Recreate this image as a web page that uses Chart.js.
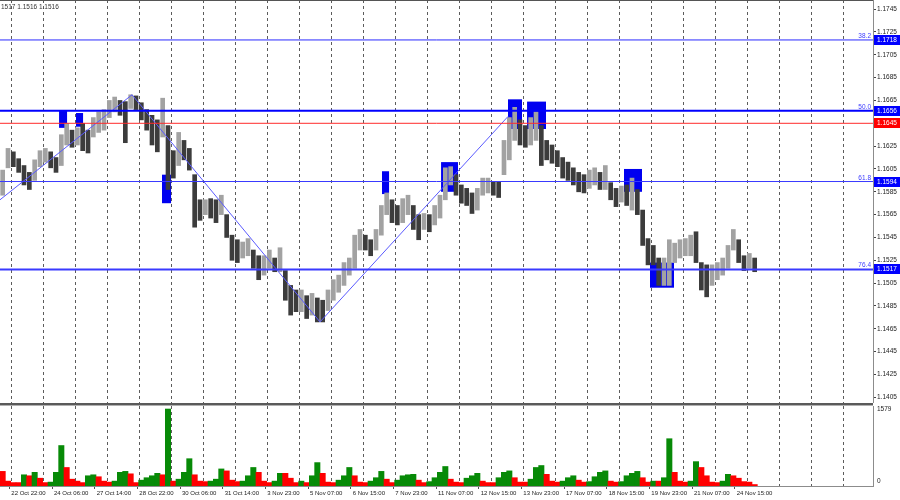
<!DOCTYPE html>
<html>
<head>
<meta charset="utf-8">
<script src="https://cdn.jsdelivr.net/npm/chart.js@4/dist/chart.umd.min.js"></script>
<style>
  body { margin: 0; background: #fff; }
  #wrap { position: relative; width: 900px; height: 500px; overflow: hidden; background: #fff; }
  #price { position: absolute; left: 0; top: 0; width: 900px; height: 403px; }
  #vol { position: absolute; left: 0; top: 406px; width: 900px; height: 94px; }
  .sep1 { position: absolute; left: 0; top: 403px; width: 873px; height: 2px; background: #5a5a5a; }
  .sep2 { position: absolute; left: 0; top: 405px; width: 873px; height: 1px; background: #b0b0b0; }
</style>
</head>
<body>
<div id="wrap">
  <canvas id="price" width="900" height="403"></canvas>
  <div class="sep1"></div><div class="sep2"></div>
  <canvas id="vol" width="900" height="94"></canvas>
</div>
<script>
// H1 bars in groups of 4 bars (one mark per group)
const BAR_GROUP = 4;

const highs = [
  1.1604,1.1623,1.1620,1.1614,1.1608,1.1602,1.1613,1.1621,1.1623,1.1620,
  1.1615,1.1635,1.1645,1.1639,1.1641,1.1645,1.1639,1.1650,1.1655,1.1657,
  1.1665,1.1668,1.1665,1.1664,1.1670,1.1669,1.1663,1.1657,1.1652,1.1648,
  1.1667,1.1643,1.1621,1.1637,1.1630,1.1623,1.1600,1.1578,1.1578,1.1579,
  1.1578,1.1582,1.1565,1.1547,1.1543,1.1541,1.1544,1.1534,1.1529,1.1529,
  1.1534,1.1527,1.1536,1.1516,1.1503,1.1499,1.1499,1.1494,1.1496,1.1492,
  1.1490,1.1499,1.1508,1.1512,1.1523,1.1527,1.1547,1.1552,1.1547,1.1543,
  1.1552,1.1573,1.1584,1.1578,1.1573,1.1579,1.1582,1.1573,1.1565,1.1566,
  1.1565,1.1573,1.1582,1.1606,1.1607,1.1600,1.1591,1.1588,1.1584,1.1588,
  1.1597,1.1597,1.1594,1.1594,1.1630,1.1650,1.1659,1.1648,1.1643,1.1650,
  1.1655,1.1643,1.1630,1.1626,1.1621,1.1615,1.1611,1.1606,1.1602,1.1600,
  1.1604,1.1606,1.1602,1.1608,1.1593,1.1588,1.1590,1.1591,1.1597,1.1587,
  1.1569,1.1544,1.1538,1.1527,1.1527,1.1543,1.1540,1.1543,1.1544,1.1547,
  1.1550,1.1523,1.1521,1.1521,1.1523,1.1527,1.1538,1.1552,1.1543,1.1529,
  1.1531,1.1527
];
const lows = [
  1.1582,1.1606,1.1607,1.1602,1.1591,1.1587,1.1595,1.1607,1.1611,1.1606,
  1.1602,1.1608,1.1626,1.1624,1.1626,1.1621,1.1619,1.1633,1.1637,1.1639,
  1.1650,1.1655,1.1652,1.1628,1.1658,1.1657,1.1648,1.1639,1.1626,1.1620,
  1.1633,1.1587,1.1597,1.1608,1.1613,1.1604,1.1554,1.1560,1.1565,1.1562,
  1.1558,1.1565,1.1545,1.1525,1.1523,1.1527,1.1529,1.1518,1.1508,1.1512,
  1.1518,1.1515,1.1515,1.1490,1.1477,1.1480,1.1480,1.1474,1.1477,1.1471,
  1.1471,1.1481,1.1490,1.1497,1.1503,1.1512,1.1518,1.1534,1.1534,1.1529,
  1.1534,1.1547,1.1565,1.1558,1.1556,1.1558,1.1565,1.1552,1.1543,1.1552,
  1.1550,1.1556,1.1562,1.1578,1.1591,1.1582,1.1575,1.1573,1.1566,1.1569,
  1.1582,1.1584,1.1582,1.1580,1.1600,1.1613,1.1630,1.1626,1.1624,1.1626,
  1.1630,1.1608,1.1613,1.1610,1.1607,1.1597,1.1595,1.1591,1.1585,1.1584,
  1.1588,1.1591,1.1587,1.1587,1.1578,1.1572,1.1576,1.1573,1.1569,1.1565,
  1.1538,1.1521,1.1521,1.1503,1.1503,1.1503,1.1523,1.1527,1.1529,1.1529,
  1.1523,1.1499,1.1493,1.1503,1.1508,1.1512,1.1518,1.1534,1.1523,1.1516,
  1.1518,1.1515
];
const volumes = [
  300,100,70,70,230,210,280,160,70,80,
  280,830,380,140,100,70,210,230,190,100,
  80,100,280,300,250,70,120,170,210,260,
  230,1579,100,140,280,560,230,100,90,100,
  140,350,310,120,90,100,210,380,280,100,
  70,100,260,260,160,70,100,70,210,480,
  260,80,70,120,210,380,210,80,70,100,
  170,300,140,70,120,210,230,240,120,70,
  90,170,280,400,140,80,70,160,210,260,
  100,70,70,170,280,310,170,80,80,140,
  380,420,240,100,80,100,170,210,120,80,
  90,190,280,310,100,80,90,210,260,300,
  170,80,100,100,170,970,280,100,80,100,
  500,380,210,80,70,100,240,210,160,90,
  80,30
];
const volMax = 1579;

const dateLabels = ['22 Oct 22:00','24 Oct 06:00','27 Oct 14:00','28 Oct 22:00','30 Oct 06:00',
  '31 Oct 14:00','3 Nov 23:00','5 Nov 07:00','6 Nov 15:00','7 Nov 23:00','11 Nov 07:00',
  '12 Nov 15:00','13 Nov 23:00','17 Nov 07:00','18 Nov 15:00','19 Nov 23:00','21 Nov 07:00','24 Nov 15:00'];
const priceTicks = [1.1745,1.1725,1.1705,1.1685,1.1665,1.1645,1.1625,1.1605,1.1585,1.1565,
  1.1545,1.1525,1.1505,1.1485,1.1465,1.1445,1.1425,1.1405];

// horizontal levels (fibo + red line)
const levels = [1.1718, 1.1656, 1.1645, 1.1594, 1.1517];
const levelNames = ['38.2', '50.0', '', '61.8', '76.4'];

// zigzag through the swing points (bar index / price)
const zigBar = [0, 99, 240, 381];
const zigPrice = [1.1578, 1.1670, 1.1471, 1.1651];

// blue zones: bar from / to, price high / low
const zoneFrom = [44.3, 57, 121.5, 286.5, 330.8, 381, 395.3, 468, 487.5];
const zoneTo   = [50.3, 62.3, 128.3, 291.8, 343.5, 391.5, 409.5, 481.5, 505.5];
const zoneHigh = [1.1656, 1.1654, 1.1600, 1.1603, 1.1611, 1.1666, 1.1664, 1.1605, 1.1523];
const zoneLow  = [1.1641, 1.1642, 1.1575, 1.1583, 1.1585, 1.1640, 1.1640, 1.1585, 1.1501];

const header = '1517 1.1516 1.1516';

// ---- styles / layout ----
const X_MAX = 654.75;            // bars visible across the plot width
const levelStyle = [
  {color: '#2a2aff', width: 1, box: '#0000ff'},
  {color: '#0000ff', width: 2, box: '#0000ff'},
  {color: '#ff2a2a', width: 1, box: '#ff0000'},
  {color: '#3a3aff', width: 1, box: '#0000ff'},
  {color: '#3a3aff', width: 2, box: '#0000ff'}
];
const gridBars = Array.from({length: 27}, (_, k) => 8.5 + 24 * k);
const dateTickBars = dateLabels.map((_, i) => 7 + 32 * i);
const barX = i => i * BAR_GROUP + BAR_GROUP / 2;
const FONT = 'Liberation Sans';

const candleData = highs.map((h, i) => ({x: barX(i), y: [lows[i], h]}));
const candleColors = highs.map((h, i) =>
  (i === 0 || h + lows[i] >= highs[i - 1] + lows[i - 1]) ? '#a2a2a2' : '#3c3c3c');

const volData = volumes.map((v, i) => ({x: barX(i), y: v}));
const volColors = volumes.map((v, i) => (i > 0 && v > volumes[i - 1]) ? '#078a07' : '#ff0000');

// no extra room for the edge labels: plot must fill the panel
const noPad = s => { s.paddingTop = 0; s.paddingBottom = 0; s.paddingLeft = 0; s.paddingRight = 0; };

const dashedGrid = {
  type: 'linear', position: 'bottom', min: 0, max: X_MAX, offset: false,
  afterBuildTicks: s => { s.ticks = gridBars.map(v => ({value: v})); },
  afterFit: s => { s.height = 0; noPad(s); },
  ticks: {display: false},
  grid: {color: '#5c5c5c', lineWidth: 1, drawTicks: false, offset: false},
  border: {display: false, dash: [3, 3]}
};

const priceOverlay = {
  id: 'priceOverlay',
  beforeDatasetsDraw(chart) {
    const {ctx, chartArea, scales: {x, y}} = chart;
    ctx.save();
    ctx.beginPath();
    ctx.rect(chartArea.left, chartArea.top, chartArea.width, chartArea.height);
    ctx.clip();
    ctx.fillStyle = '#0000f0';
    zoneFrom.forEach((f, k) => {
      const x0 = x.getPixelForValue(f), x1 = x.getPixelForValue(zoneTo[k]);
      const y0 = y.getPixelForValue(zoneHigh[k]), y1 = y.getPixelForValue(zoneLow[k]);
      ctx.fillRect(x0, y0, x1 - x0, y1 - y0);
    });
    ctx.restore();
  },
  afterDraw(chart) {
    const {ctx, chartArea, scales: {y}} = chart;
    ctx.save();
    ctx.fillStyle = '#555';
    ctx.fillRect(0, 0, chartArea.right, 1);
    ctx.font = '6.5px "' + FONT + '"';
    ctx.fillStyle = '#333';
    ctx.textAlign = 'left';
    ctx.textBaseline = 'alphabetic';
    ctx.fillText(header, 1, 9);
    levels.forEach((v, k) => {
      const py = Math.round(y.getPixelForValue(v));
      if (levelNames[k]) {
        ctx.fillStyle = '#3b3bff';
        ctx.textAlign = 'right';
        ctx.textBaseline = 'alphabetic';
        ctx.fillText(levelNames[k], chartArea.right - 2, py - 2);
      }
      ctx.fillStyle = levelStyle[k].box;
      ctx.fillRect(chartArea.right + 1, py - 5, 26, 10);
      ctx.fillStyle = '#fff';
      ctx.textAlign = 'left';
      ctx.textBaseline = 'middle';
      ctx.fillText(v.toFixed(4), chartArea.right + 4, py + 0.5);
    });
    ctx.restore();
  }
};

new Chart(document.getElementById('price'), {
  type: 'bar',
  data: {
    datasets: [
      {
        data: candleData, backgroundColor: candleColors, borderWidth: 0,
        barThickness: 4, order: 3
      },
      ...levels.map((v, k) => ({
        type: 'line', data: [{x: 0, y: v}, {x: X_MAX, y: v}],
        borderColor: levelStyle[k].color, borderWidth: levelStyle[k].width,
        pointRadius: 0, order: 1
      })),
      {
        type: 'line', data: zigBar.map((b, i) => ({x: b, y: zigPrice[i]})),
        borderColor: '#5a5aff', borderWidth: 1, pointRadius: 0, order: 2
      }
    ]
  },
  options: {
    responsive: false, animation: false, devicePixelRatio: 1,
    layout: {padding: 0},
    plugins: {legend: {display: false}, tooltip: {enabled: false}},
    scales: {
      x: dashedGrid,
      y: {
        position: 'right', min: 1.1400, max: 1.1753,
        afterBuildTicks: s => { s.ticks = priceTicks.map(v => ({value: v})); },
        afterFit: s => { s.width = 27; noPad(s); },
        ticks: {
          callback: v => v.toFixed(4), autoSkip: false,
          font: {family: FONT, size: 6.5}, color: '#222', padding: 1
        },
        grid: {drawOnChartArea: false, drawTicks: true, tickLength: 3, tickColor: '#444'},
        border: {color: '#8c8c8c', width: 1}
      }
    }
  },
  plugins: [priceOverlay]
});

const volOverlay = {
  id: 'volOverlay',
  afterDraw(chart) {
    const {ctx, chartArea, scales: {y}} = chart;
    ctx.save();
    ctx.font = '6.5px "' + FONT + '"';
    ctx.fillStyle = '#222';
    ctx.textAlign = 'left';
    ctx.textBaseline = 'middle';
    ctx.fillText(String(volMax), chartArea.right + 4, y.getPixelForValue(volMax));
    ctx.fillText('0', chartArea.right + 4, y.getPixelForValue(0) - 5);
    ctx.restore();
  }
};

new Chart(document.getElementById('vol'), {
  type: 'bar',
  data: {
    datasets: [{
      data: volData, backgroundColor: volColors, borderWidth: 0,
      barPercentage: 1, categoryPercentage: 1
    }]
  },
  options: {
    responsive: false, animation: false, devicePixelRatio: 1,
    layout: {padding: 0},
    plugins: {legend: {display: false}, tooltip: {enabled: false}},
    scales: {
      x: {
        type: 'linear', position: 'bottom', min: 0, max: X_MAX, offset: false,
        afterBuildTicks: s => { s.ticks = dateTickBars.map(v => ({value: v})); },
        afterFit: s => { s.height = 14; noPad(s); },
        ticks: {
          callback: (v, i) => dateLabels[i], autoSkip: false, maxRotation: 0,
          align: 'start', labelOffset: 2, padding: 1,
          font: {family: FONT, size: 6}, color: '#222'
        },
        grid: {drawOnChartArea: false, drawTicks: true, tickLength: 3, tickColor: '#555', offset: false},
        border: {color: '#8c8c8c', width: 1}
      },
      xg: dashedGrid,
      y: {
        position: 'right', min: 0, max: 1641,
        afterFit: s => { s.width = 27; noPad(s); },
        ticks: {display: false},
        grid: {display: false},
        border: {color: '#8c8c8c', width: 1}
      }
    }
  },
  plugins: [volOverlay]
});
</script>
</body>
</html>
